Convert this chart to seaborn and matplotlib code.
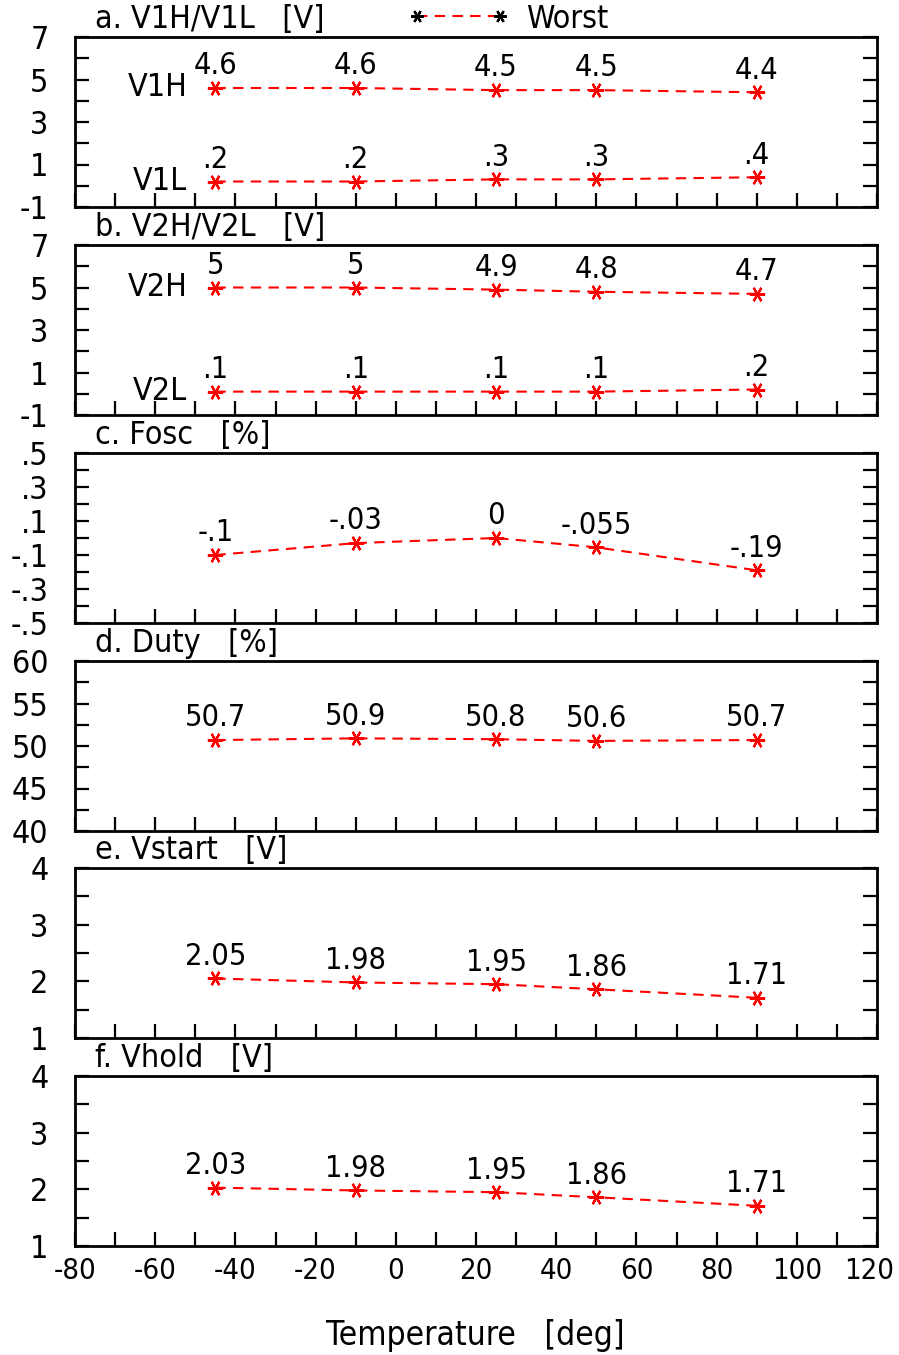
import numpy as np
import pandas as pd
import matplotlib
matplotlib.use("Agg")
import matplotlib.pyplot as plt
import matplotlib.transforms as mtrans
import seaborn as sns
from matplotlib import font_manager
from matplotlib.lines import Line2D

# temperatures (deg)
temps = [-45, -10, 25, 50, 90]

v1h = [4.6, 4.6, 4.5, 4.5, 4.4]
v1l = [0.2, 0.2, 0.3, 0.3, 0.4]
v2h = [5, 5, 4.9, 4.8, 4.7]
v2l = [0.1, 0.1, 0.1, 0.1, 0.2]
fosc = [-0.1, -0.03, 0, -0.055, -0.19]
duty = [50.7, 50.9, 50.8, 50.6, 50.7]
vstart = [2.05, 1.98, 1.95, 1.86, 1.71]
vhold = [2.03, 1.98, 1.95, 1.86, 1.71]

titles = ["a. V1H/V1L   [V]", "b. V2H/V2L   [V]", "c. Fosc   [%]",
          "d. Duty   [%]", "e. Vstart   [V]", "f. Vhold   [V]"]

sns.set_style("white")

# look for a narrow face, the original uses a tall condensed plotter font
narrow = None
for f in font_manager.fontManager.ttflist:
    if f.stretch in ("condensed", "semi-condensed", "extra-condensed") or \
            "Narrow" in f.name or "Condensed" in f.name:
        if f.style == "normal" and f.weight in (400, "normal", "regular"):
            narrow = f
            break
if narrow is not None:
    font_manager.fontManager.addfont(narrow.fname)
    plt.rcParams['font.family'] = [narrow.name, 'DejaVu Sans']
    FONT = dict(family=[narrow.name, 'DejaVu Sans'], stretch=narrow.stretch)
else:
    plt.rcParams['font.family'] = ['DejaVu Sans']
    FONT = dict(family=['DejaVu Sans'])
plt.rcParams['text.color'] = 'black'
plt.rcParams['xtick.color'] = 'black'
plt.rcParams['ytick.color'] = 'black'
FS = 23


def fmt(v):
    s = f"{v:g}"
    if s.startswith("0."):
        s = s[1:]
    elif s.startswith("-0."):
        s = "-" + s[2:]
    return s


def label_pts(ax, xs, ys, dy):
    for x, y in zip(xs, ys):
        ax.text(x, y + dy, fmt(y), ha="center", va="bottom", fontsize=FS - 1, **FONT)


def series(ax, ys):
    df = pd.DataFrame({"T": temps, "v": ys})
    sns.lineplot(data=df, x="T", y="v", ax=ax, color="red", linestyle=(0, (5, 3.5)),
                 linewidth=1.5, marker=(6, 2, 90), markersize=11,
                 markeredgecolor="red", markeredgewidth=1.6)


fig = plt.figure(figsize=(8.99, 13.55), dpi=100)
left, right = 75 / 899, 877 / 899
tops = [37, 245, 453, 661, 868, 1076]
h = 170
axes = []
for t in tops:
    ax = fig.add_axes([left, 1 - (t + h) / 1355, right - left, h / 1355])
    axes.append(ax)

panels = [
    ([v1h, v1l], (-1, 7), [-1, 1, 3, 5, 7], 1, ["V1H", "V1L"]),
    ([v2h, v2l], (-1, 7), [-1, 1, 3, 5, 7], 1, ["V2H", "V2L"]),
    ([fosc], (-0.5, 0.5), [-0.5, -0.3, -0.1, 0.1, 0.3, 0.5], 0.1, None),
    ([duty], (40, 60), [40, 45, 50, 55, 60], 2.5, None),
    ([vstart], (1, 4), [1, 2, 3, 4], 0.5, None),
    ([vhold], (1, 4), [1, 2, 3, 4], 0.5, None),
]

for i, (ax, (sers, ylim, majors, step, names)) in enumerate(zip(axes, panels)):
    span = ylim[1] - ylim[0]
    for s in sers:
        series(ax, s)
        label_pts(ax, temps, s, span * 0.045)
    if names:
        for nm, s in zip(names, sers):
            ax.text(-52, s[0], nm, ha="right", va="center", fontsize=FS, **FONT)
    ax.set_xlim(-80, 120)
    ax.set_ylim(*ylim)
    ax.set_xlabel("")
    ax.set_ylabel("")
    ticks = np.arange(ylim[0], ylim[1] + step / 2, step)
    ax.set_yticks(ticks)
    ax.set_yticklabels([fmt(round(t, 2)) if any(abs(t - m) < 1e-9 for m in majors) else ""
                        for t in ticks], **FONT)
    ax.set_xticks(np.arange(-80, 121, 10))
    if i == 5:
        ax.set_xticklabels([f"{x}" if x % 20 == 0 else "" for x in range(-80, 121, 10)],
                           **FONT)
    else:
        ax.set_xticklabels([])
    ax.tick_params(axis="both", direction="in", length=10, width=1.6, labelsize=FS,
                   right=True, top=False, left=True, bottom=True, pad=8, color="black",
                   labelcolor="black")
    ax.tick_params(axis="y", pad=19)
    ax.tick_params(axis="x", labelsize=FS - 2)
    for sp in ax.spines.values():
        sp.set_linewidth(2)
        sp.set_color("black")
    ax.text(0.025, 1.01, titles[i], transform=ax.transAxes, ha="left", va="bottom",
            fontsize=FS, **FONT)
    if ax.get_legend():
        ax.get_legend().remove()

# nudge the last x label (120) so it stays inside the canvas
last = axes[-1].get_xticklabels()[-1]
last.set_transform(last.get_transform() +
                   mtrans.ScaledTranslation(-8 / 100, 0, fig.dpi_scale_trans))

# legend above top panel
h1 = Line2D([0], [0], color="red", linestyle=(0, (5, 3.5)), linewidth=1.5,
            marker=(6, 2, 90), markersize=9, markeredgecolor="black", markeredgewidth=1.6)
leg = fig.legend([h1], ["Worst"], loc="center", bbox_to_anchor=(0.565, 1 - 19 / 1355),
                 frameon=False, fontsize=FS, handlelength=3.2, numpoints=2,
                 handletextpad=0.5)
for t in leg.get_texts():
    t.set(**FONT)

fig.text(475 / 899, 1 - 1335 / 1355, "Temperature   [deg]", ha="center",
         va="center", fontsize=FS + 1, **FONT)

fig.savefig("out.png", dpi=100)
